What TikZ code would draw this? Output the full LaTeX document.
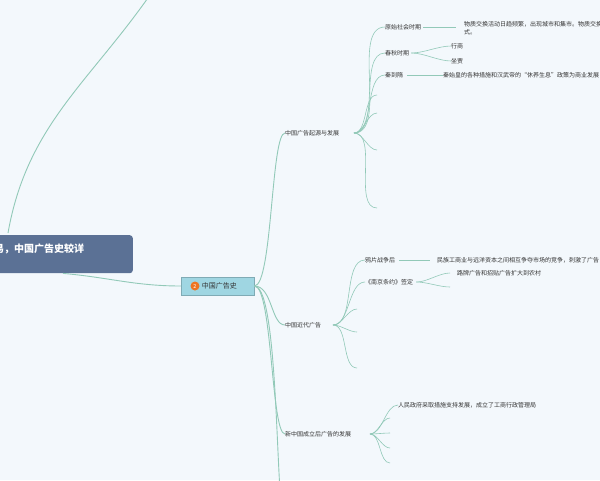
\documentclass[tikz,border=0pt]{standalone}
\usepackage{fontspec}
\setmainfont{Noto Sans CJK SC}
\usetikzlibrary{positioning}

\definecolor{bg}{HTML}{F3F8FC}
\definecolor{rootc}{HTML}{5B7195}
\definecolor{mainc}{HTML}{9FD6E2}
\definecolor{linkc}{HTML}{92C9B8}
\definecolor{numc}{HTML}{EE7521}

\begin{document}
\begin{tikzpicture}
[
   x=1pt, y=-1pt,
   every node/.style={inner sep=0pt, font=\fontsize{6}{8}\selectfont, text=black!80},
   topic/.style={anchor=west},
   link/.style={draw=linkc, line width=0.6pt},
   trunk/.style={draw=linkc, line width=0.9pt}
]
\tikzset{branch/.style = {out=0, in=180, looseness=0.8}}
\useasboundingbox (0,0) rectangle (600,480);
\fill[bg] (0,0) rectangle (600,480);
\clip (0,0) rectangle (600,480);

% root and centre
\node[fill=rootc, rounded corners=3pt, minimum width=180pt, minimum height=38pt,
      anchor=north east, font=\fontsize{10}{12}\selectfont\bfseries, text=white] (root) at (133,235) {};
\node[anchor=west, font=\fontsize{10}{12}\selectfont\bfseries, text=white] (roottxt) at (-6,249) {易，中国广告史较详};
\node[fill=mainc, draw=mainc!80!black, minimum width=73pt, minimum height=18pt, anchor=west] (hist) at (181,286) {};
\node[circle, fill=numc, minimum size=9pt, text=white, font=\fontsize{5.5}{6}\selectfont] (num) at (195,286) {2};
\node[right=2pt of num, font=\fontsize{7}{8}\selectfont] (histtxt) {中国广告史};

% level one
\node[topic] (orig) at (285,133) {中国广告起源与发展};
\node[topic] (modern) at (285,325) {中国近代广告};
\node[topic] (newch) at (285,434) {新中国成立后广告的发展};
\coordinate (more) at (280,490);
\coordinate (up) at (150,-5);
\coordinate (h1) at (354,133);
\coordinate (h2) at (333,325);
\coordinate (h3) at (370,434);

% origin branch
\node[topic] (prim) at (385,27) {原始社会时期};
\node[topic] (spring) at (385,53) {春秋时期};
\node[topic] (qin) at (385,75) {秦到隋};
\coordinate (e1) at (377,95);
\coordinate (e2) at (377,113);
\coordinate (e3) at (377,150);
\coordinate (e4) at (377,208);
\node[topic, align=left] (primtxt) at (464,28) {物质交换活动日趋频繁，出现城市和集市。物质交换方\\式。};
\node[topic] (hang) at (451,46) {行商};
\node[topic] (zuo) at (451,61) {坐贾};
\node[topic] (qintxt) at (443,75) {秦始皇的各种措施和汉武帝的“休养生息”政策为商业发展};

% modern branch
\node[topic] (opium) at (365,260) {鸦片战争后};
\node[topic] (nanjing) at (365,282) {《南京条约》签定};
\coordinate (m1) at (357,309);
\coordinate (m2) at (357,332);
\coordinate (m3) at (357,368);
\node[topic] (opiumtxt) at (437,260) {民族工商业与远洋资本之间相互争夺市场的竞争，刺激了广告};
\node[topic] (road) at (457,273) {路牌广告和招贴广告扩大到农村};
\coordinate (n2) at (450,287);

% new china branch
\node[topic] (gov) at (398,405) {人民政府采取措施支持发展，成立了工商行政管理局};
\coordinate (g2) at (390,418);
\coordinate (g3) at (390,433);
\coordinate (g4) at (390,448);
\coordinate (g5) at (390,463);

% connectors
\draw[trunk] (root.south east) ++(-70,0) to[out=-5, in=180] (hist.west);
\draw[trunk] (8,233) to[out=80, in=235] (up);
\foreach \c in {orig,modern,newch}
   \draw[trunk] (hist.east) .. controls +(18,0) and +(-14,0) .. (\c.west);
\draw[trunk] (hist.east) .. controls +(20,0) and +(-4,-60) .. (more);

\foreach \c in {prim,spring,qin}
   \draw[link] (h1) to[branch] (\c.west);
\foreach \c in {e1,e2,e3,e4}
   \draw[link] (h1) to[branch] (\c);
\draw[link] (prim.east) ++(2,0) -- (456,27);
\draw[link] (spring.east) ++(2,0) coordinate (sf) to[branch] (hang.west);
\draw[link] (sf) to[branch] (zuo.west);
\draw[link] (qin.east) ++(4,0) -- (qintxt.west);

\foreach \c in {opium,nanjing}
   \draw[link] (h2) to[branch] (\c.west);
\foreach \c in {m1,m2,m3}
   \draw[link] (h2) to[branch] (\c);
\draw[link] (opium.east) ++(4,0) -- ([xshift=-7pt]opiumtxt.west);
\draw[link] (nanjing.east) ++(3,0) coordinate (nf) to[branch] ([xshift=-7pt]road.west);
\draw[link] (nf) to[branch] (n2);

\draw[link] (h3) to[branch] (gov.west);
\foreach \c in {g2,g3,g4,g5}
   \draw[link] (h3) to[branch] (\c);
\end{tikzpicture}
\end{document}
